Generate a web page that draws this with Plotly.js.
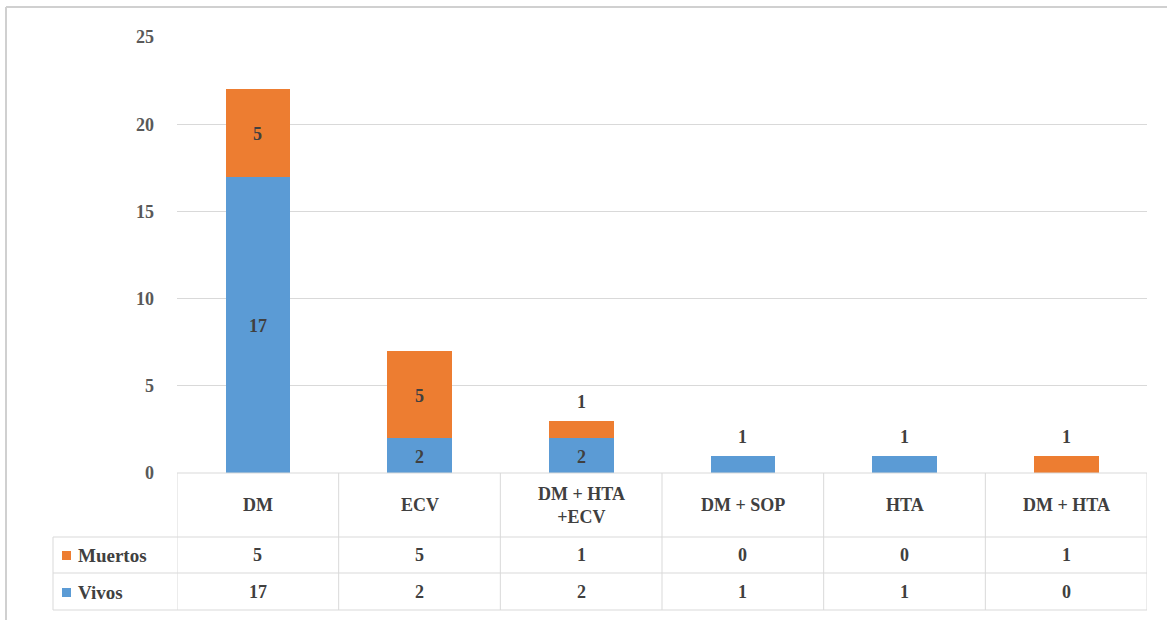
<!DOCTYPE html>
<html>
<head>
<meta charset="utf-8">
<script src="https://cdn.plot.ly/plotly-3.0.1.min.js"></script>
</head>
<body style="margin:0;padding:0;background:#fff">
<div id="chart" style="width:1167px;height:620px"></div>
<script>
const categories = ["DM", "ECV", "DM + HTA<br>+ECV", "DM + SOP", "HTA", "DM + HTA"];
const vivos = [17, 2, 2, 1, 1, 0];
const muertos = [5, 5, 1, 0, 0, 1];
const seriesNames = ["Muertos", "Vivos"];
const yTicks = [0, 5, 10, 15, 20, 25];

const W = 1167, H = 620;
const px = x => x / W;
const py = y => 1 - y / H;
const BLUE = "#5B9BD5", ORANGE = "#ED7D31";
const FONT = "Times New Roman";
const xIdx = categories.map((c, i) => i);

const traces = [
  {type: "bar", name: "Vivos", x: xIdx, y: vivos, marker: {color: BLUE}, width: 0.4, hoverinfo: "none"},
  {type: "bar", name: "Muertos", x: xIdx, y: muertos, marker: {color: ORANGE}, width: 0.4, hoverinfo: "none"}
];

const annotations = [];
const labelFont = {family: FONT, size: 18, color: "#404040"};
xIdx.forEach(i => {
  const segs = [[vivos[i], 0], [muertos[i], vivos[i]]];
  const top = vivos[i] + muertos[i];
  segs.forEach(([v, base]) => {
    if (v <= 0) return;
    if (v >= 2) {
      annotations.push({x: i, y: base + v / 2, xref: "x", yref: "y", text: "<b>" + v + "</b>",
        showarrow: false, font: labelFont, yanchor: "middle", yshift: -1});
    } else {
      annotations.push({x: i, y: top, xref: "x", yref: "y", text: "<b>" + v + "</b>",
        showarrow: false, font: labelFont, yanchor: "bottom", yshift: 7});
    }
  });
});

const tblFont = {family: FONT, size: 18, color: "#404040"};
categories.forEach((c, i) => {
  annotations.push({x: i, y: py(505), xref: "x", yref: "paper", yanchor: "middle", text: "<b>" + c + "</b>",
    showarrow: false, font: tblFont, align: "center"});
  annotations.push({x: i, y: py(555), xref: "x", yref: "paper", yanchor: "middle", text: "<b>" + muertos[i] + "</b>",
    showarrow: false, font: tblFont});
  annotations.push({x: i, y: py(592), xref: "x", yref: "paper", yanchor: "middle", text: "<b>" + vivos[i] + "</b>",
    showarrow: false, font: tblFont});
});
const rowFont = {family: FONT, size: 19, color: "#404040"};
annotations.push({x: px(76), y: py(555), xref: "paper", yref: "paper", xanchor: "left", yanchor: "middle",
  text: "<b>" + seriesNames[0] + "</b>", showarrow: false, font: rowFont});
annotations.push({x: px(76), y: py(592), xref: "paper", yref: "paper", xanchor: "left", yanchor: "middle",
  text: "<b>" + seriesNames[1] + "</b>", showarrow: false, font: rowFont});

const lineC = "#d9d9d9";
const shapes = [];
shapes.push({type: "line", xref: "paper", yref: "paper", x0: px(6), x1: 1, y0: py(7), y1: py(7), line: {color: "#d0d0d0", width: 2}});
shapes.push({type: "line", xref: "paper", yref: "paper", x0: px(6), x1: px(6), y0: py(7), y1: 0, line: {color: "#d0d0d0", width: 2}});
shapes.push({type: "line", xref: "paper", yref: "paper", x0: px(177), x1: px(1147), y0: py(473), y1: py(473), line: {color: lineC, width: 1}});
[537, 573, 610].forEach(y => shapes.push({type: "line", xref: "paper", yref: "paper", x0: px(53), x1: px(1147), y0: py(y), y1: py(y), line: {color: lineC, width: 1}}));
for (let k = 0; k <= categories.length; k++) {
  shapes.push({type: "line", xref: "x", yref: "paper", x0: k - 0.5, x1: k - 0.5, y0: py(473), y1: py(610), line: {color: lineC, width: 1}});
}
shapes.push({type: "line", xref: "paper", yref: "paper", x0: px(53), x1: px(53), y0: py(537), y1: py(610), line: {color: lineC, width: 1}});
shapes.push({type: "rect", xref: "paper", yref: "paper", x0: px(62), x1: px(71), y0: py(551), y1: py(560), fillcolor: ORANGE, line: {width: 0}});
shapes.push({type: "rect", xref: "paper", yref: "paper", x0: px(62), x1: px(71), y0: py(588), y1: py(597), fillcolor: BLUE, line: {width: 0}});

const layout = {
  width: W, height: H,
  margin: {l: 0, r: 0, t: 0, b: 0},
  paper_bgcolor: "#fff", plot_bgcolor: "#fff",
  barmode: "stack",
  showlegend: false,
  xaxis: {domain: [px(177), px(1147)], range: [-0.5, categories.length - 0.5], showticklabels: false,
    showgrid: false, zeroline: false, showline: false, ticks: "", fixedrange: true},
  yaxis: {domain: [py(473), py(37)], range: [0, 25], tickvals: yTicks, ticktext: yTicks.map(v => "<b>" + v + "</b>"),
    showgrid: true, gridcolor: lineC, gridwidth: 1, zeroline: false, showline: false, ticks: "",
    ticklabelstandoff: 22, tickfont: {family: FONT, size: 18, color: "#595959"}, fixedrange: true},
  annotations: annotations,
  shapes: shapes
};

Plotly.newPlot("chart", traces, layout, {displayModeBar: false});
</script>
</body>
</html>
